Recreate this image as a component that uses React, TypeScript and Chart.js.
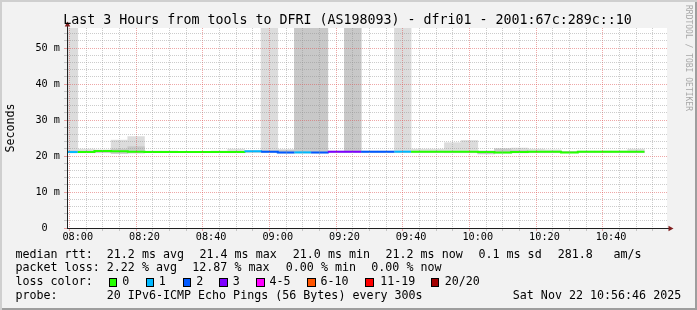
import { useEffect, useRef } from 'react';
import { Chart, registerables } from 'chart.js';

Chart.register(...registerables);

// ---------- data ----------
const rangeStart = '07:56:46';
const rangeEnd = '10:56:46';
const binMinutes = 5;

const binStarts = [
  '07:55', '08:00', '08:05', '08:10', '08:15', '08:20', '08:25', '08:30', '08:35', '08:40',
  '08:45', '08:50', '08:55', '09:00', '09:05', '09:10', '09:15', '09:20', '09:25', '09:30',
  '09:35', '09:40', '09:45', '09:50', '09:55', '10:00', '10:05', '10:10', '10:15', '10:20',
  '10:25', '10:30', '10:35', '10:40', '10:45',
];
const medianMs = [
  21.1, 21.1, 21.4, 21.3, 21.2, 21.1, 21.1, 21.1, 21.1, 21.1,
  21.1, 21.3, 21.2, 21.0, 21.0, 21.0, 21.2, 21.2, 21.2, 21.2,
  21.2, 21.2, 21.2, 21.2, 21.2, 21.1, 21.0, 21.1, 21.2, 21.2,
  21.0, 21.2, 21.2, 21.2, 21.2,
];
// index into lossColors
const lossClass = [
  1, 0, 0, 0, 0, 0, 0, 0, 0, 0,
  0, 1, 2, 2, 1, 2, 3, 3, 2, 2,
  1, 0, 0, 0, 0, 0, 0, 0, 0, 0,
  0, 0, 0, 0, 0,
];
const smokeOuterLo = [
  20.9, 20.9, 20.9, 20.8, 20.8, 21.0, 21.0, 21.0, 21.0, 21.0,
  20.9, 21.1, 20.9, 20.8, 20.8, 20.8, 21.1, 21.0, 21.0, 21.0,
  21.0, 21.0, 21.0, 20.9, 20.9, 20.6, 20.8, 20.9, 20.9, 20.9,
  20.9, 21.0, 21.0, 21.0, 20.9,
];
const smokeOuterHi = [
  60, 21.9, 21.7, 24.4, 25.4, 21.4, 21.4, 21.3, 21.3, 21.4,
  21.9, 21.5, 60, 21.8, 60, 60, 21.4, 60, 21.4, 21.4,
  60, 21.9, 21.9, 23.7, 24.3, 21.5, 22.1, 22.2, 21.9, 21.7,
  21.2, 21.4, 21.4, 21.4, 21.9,
];
const smokeInnerLo = [
  20.9, 21.0, 21.0, 20.7, 20.9, 21.0, 21.0, 21.0, 21.0, 21.0,
  21.0, 21.0, 21.0, 20.9, 20.9, 20.9, 21.0, 21.0, 21.0, 21.0,
  21.0, 21.0, 21.0, 21.0, 21.0, 20.6, 20.9, 20.9, 21.0, 21.0,
  21.0, 21.0, 21.0, 21.0, 21.0,
];
const smokeInnerHi = [
  21.5, 21.4, 21.5, 21.9, 22.6, 21.3, 21.3, 21.3, 21.3, 21.3,
  21.3, 21.3, 21.5, 21.6, 60, 60, 21.3, 60, 21.3, 21.3,
  21.3, 21.3, 21.3, 21.3, 21.3, 21.2, 21.9, 21.6, 21.3, 21.3,
  21.3, 21.3, 21.3, 21.3, 21.3,
];

const lossColors = ['#26ff00', '#00b8ff', '#0059ff', '#7e00ff', '#ff00ff', '#ff5500', '#ff0000', '#a10000'];
const lossLabels = ['0', '1', '2', '3', '4-5', '6-10', '11-19', '20/20'];

const xLabelTimes = ['08:00', '08:20', '08:40', '09:00', '09:20', '09:40', '10:00', '10:20', '10:40'];
const yLabelValues = [0, 10, 20, 30, 40, 50];
const yLabelTexts = ['0  ', '10 m', '20 m', '30 m', '40 m', '50 m'];

const titleText = 'Last 3 Hours from tools to DFRI (AS198093) - dfri01 - 2001:67c:289c::10';
const yTitle = 'Seconds';
const watermark = 'RRDTOOL / TOBI OETIKER';

const rowLabels = ['median rtt:', 'packet loss:', 'loss color:', 'probe:'];
const medianStats = ['21.2 ms avg', '21.4 ms max', '21.0 ms min', '21.2 ms now', '0.1 ms sd', '281.8', 'am/s'];
const lossStats = ['2.22 % avg', '12.87 % max', '0.00 % min', '0.00 % now'];
const probeText = '20 IPv6-ICMP Echo Pings (56 Bytes) every 300s';
const stampText = 'Sat Nov 22 10:56:46 2025';

// ---------- layout ----------
const W = 697;
const H = 310;
const MONO = '"DejaVu Sans Mono", monospace';
const medianStatX = [106.8, 199.5, 292.8, 385.5, 478.5, 557.8, 613.5];
const lossStatX = [106.8, 192.3, 285.8, 371.3];
const lossBoxX = [108.7, 145.7, 182.7, 219.3, 256, 307.3, 365.3, 430.7];
const lossLabelX = [122.2, 158.8, 196.2, 232.8, 269.5, 320.5, 380.2, 444.8];
const rowTop = [248.6, 262.4, 276.2, 290.0];

const toMin = (t: string) => {
  const p = t.split(':').map(Number);
  return p[0] * 60 + p[1] + (p[2] || 0) / 60 - 480;
};

const fmtMin = (v: number) => {
  const m = Math.round(v) + 480;
  const h = Math.floor(m / 60);
  const mm = m % 60;
  return `${String(h).padStart(2, '0')}:${String(mm).padStart(2, '0')}`;
};

const MINOR = 'rgba(143,143,143,0.45)';
const MAJOR = 'rgba(222,79,79,0.5)';

const plotBg = {
  id: 'plotBg',
  beforeDraw(chart: any) {
    const { ctx, chartArea: a } = chart;
    ctx.save();
    ctx.fillStyle = '#ffffff';
    ctx.fillRect(a.left, a.top, a.right - a.left, a.bottom - a.top);
    ctx.restore();
  },
};

const axisArrows = {
  id: 'axisArrows',
  afterDraw(chart: any) {
    const { ctx, chartArea: a } = chart;
    const ax = Math.round(a.left) + 0.5;
    const ay = Math.round(a.bottom) + 0.5;
    ctx.save();
    ctx.strokeStyle = '#1f1f1f';
    ctx.lineWidth = 1;
    ctx.beginPath();
    ctx.moveTo(ax, a.top + 1);
    ctx.lineTo(ax, a.top - 3);
    ctx.moveTo(a.right - 1, ay);
    ctx.lineTo(a.right + 3, ay);
    ctx.stroke();
    ctx.fillStyle = '#801f1f';
    ctx.beginPath();
    ctx.moveTo(ax, a.top - 6.5);
    ctx.lineTo(ax + 2.8, a.top - 1.5);
    ctx.lineTo(ax - 2.8, a.top - 1.5);
    ctx.closePath();
    ctx.fill();
    ctx.beginPath();
    ctx.moveTo(a.right + 6.5, ay);
    ctx.lineTo(a.right + 1.5, ay - 2.8);
    ctx.lineTo(a.right + 1.5, ay + 2.8);
    ctx.closePath();
    ctx.fill();
    ctx.restore();
  },
};

export default function App() {
  const ref = useRef<HTMLCanvasElement>(null);

  useEffect(() => {
    const canvas = ref.current;
    if (!canvas) return;
    const xs = binStarts.map(toMin);
    const bars = (lo: (number | null)[], hi: (number | null)[]) =>
      xs
        .map((x, i) => (lo[i] == null || hi[i] == null ? null : { x: x + binMinutes / 2, y: [lo[i], hi[i]] }))
        .filter((d) => d !== null);
    const linePts = xs.map((x, i) => ({ x, y: medianMs[i] }));
    linePts.push({ x: xs[xs.length - 1] + binMinutes, y: medianMs[medianMs.length - 1] });

    const xMin = toMin(rangeStart);
    const xMax = toMin(rangeEnd);
    const xTickVals: number[] = [];
    for (let v = Math.ceil(xMin / binMinutes) * binMinutes; v <= xMax; v += binMinutes) xTickVals.push(v);
    const xLabelVals = xLabelTimes.map(toMin);
    const yTickVals: number[] = [];
    for (let v = 0; v <= 54; v += 2) yTickVals.push(v);

    const chart = new Chart(canvas, {
      type: 'bar',
      data: {
        datasets: [
          {
            type: 'line',
            data: linePts,
            order: 0,
            borderColor: lossColors[0],
            borderWidth: 2,
            pointRadius: 0,
            stepped: 'before',
            fill: false,
            clip: 0,
            segment: {
              borderColor: (c: any) => lossColors[lossClass[c.p0DataIndex]] || lossColors[0],
            },
          } as any,
          {
            type: 'bar',
            data: bars(smokeInnerLo, smokeInnerHi),
            order: 1,
            backgroundColor: '#c8c8c8',
            borderWidth: 0,
            grouped: false,
            barPercentage: 1,
            categoryPercentage: 1,
            clip: 0,
          } as any,
          {
            type: 'bar',
            data: bars(smokeOuterLo, smokeOuterHi),
            order: 2,
            backgroundColor: '#dcdcdc',
            borderWidth: 0,
            grouped: false,
            barPercentage: 1,
            categoryPercentage: 1,
            clip: 0,
          } as any,
        ],
      },
      options: {
        responsive: false,
        animation: false,
        devicePixelRatio: 1,
        events: [],
        layout: { padding: { left: 0, top: 28, right: 30, bottom: 62 } },
        plugins: {
          legend: { display: false },
          tooltip: { enabled: false },
          title: { display: false },
        },
        scales: {
          x: {
            type: 'linear',
            offset: false,
            min: xMin,
            max: xMax,
            afterFit: (s: any) => {
              s.height = 20;
            },
            afterBuildTicks: (s: any) => {
              s.ticks = xTickVals.map((v) => ({ value: v }));
            },
            grid: {
              z: 1,
              lineWidth: 1,
              drawTicks: true,
              tickLength: 3,
              color: (c: any) => (c.tick && Math.round(c.tick.value) % 20 === 0 ? MAJOR : MINOR),
            },
            border: { display: true, color: '#1f1f1f', width: 1, dash: [1, 1], z: 2 },
            ticks: {
              autoSkip: false,
              maxRotation: 0,
              minRotation: 0,
              padding: 0,
              color: '#000',
              font: { family: MONO, size: 10.2 },
              callback: (v: any) => (xLabelVals.some((l) => Math.abs(l - v) < 0.01) ? fmtMin(v) : ''),
            },
          },
          y: {
            type: 'linear',
            min: 0,
            max: 200 / 3.6,
            afterFit: (s: any) => {
              s.width = 67;
            },
            afterBuildTicks: (s: any) => {
              s.ticks = yTickVals.map((v) => ({ value: v }));
            },
            grid: {
              z: 1,
              lineWidth: 1,
              drawTicks: true,
              tickLength: 3,
              color: (c: any) => (c.tick && Math.round(c.tick.value) % 10 === 0 ? MAJOR : MINOR),
            },
            border: { display: true, color: '#1f1f1f', width: 1, dash: [1, 1], z: 2 },
            title: {
              display: true,
              text: yTitle,
              color: '#000',
              font: { family: MONO, size: 11.67 },
              padding: { top: 3.5, bottom: 0 },
            },
            ticks: {
              autoSkip: false,
              padding: 4,
              color: '#000',
              font: { family: MONO, size: 10.2 },
              callback: (v: any) => {
                const i = yLabelValues.indexOf(Math.round(v));
                return i >= 0 && Math.abs(v - yLabelValues[i]) < 0.01 ? yLabelTexts[i] : '';
              },
            },
          },
        },
      } as any,
      plugins: [plotBg, axisArrows],
    });
    return () => chart.destroy();
  }, []);

  const txt = (left: number, top: number, text: string, key: string, size = 11.67) => (
    <span
      key={key}
      style={{
        position: 'absolute',
        left,
        top,
        fontSize: size,
        lineHeight: 1,
        whiteSpace: 'pre',
        color: '#000',
      }}
    >
      {text}
    </span>
  );

  return (
    <div
      style={{
        position: 'fixed',
        left: 0,
        top: 0,
        width: W,
        height: H,
        background: '#f2f2f2',
        boxShadow: 'inset 2px 2px 0 #cfcfcf, inset -2px -2px 0 #9e9e9e',
        overflow: 'hidden',
        fontFamily: MONO,
      }}
    >
      <canvas ref={ref} width={W} height={H} style={{ position: 'absolute', left: 0, top: 0, width: W, height: H }} />
      <div
        style={{
          position: 'absolute',
          left: -1,
          top: 13.25,
          width: W,
          textAlign: 'center',
          fontSize: 13.3,
          lineHeight: 1,
          whiteSpace: 'pre',
          color: '#000',
        }}
      >
        {titleText}
      </div>
      <div
        style={{
          position: 'absolute',
          left: 683.5,
          top: 5,
          writingMode: 'vertical-rl',
          fontSize: 8,
          lineHeight: 1,
          whiteSpace: 'pre',
          color: '#a8a8a8',
        }}
      >
        {watermark}
      </div>
      {rowLabels.map((t, i) => txt(15.5, rowTop[i], t, 'r' + i))}
      {medianStats.map((t, i) => txt(medianStatX[i], rowTop[0], t, 'm' + i))}
      {lossStats.map((t, i) => txt(lossStatX[i], rowTop[1], t, 'l' + i))}
      {lossLabels.map((t, i) => (
        <div
          key={'b' + i}
          style={{
            position: 'absolute',
            left: lossBoxX[i],
            top: 278,
            width: 8.5,
            height: 9,
            boxSizing: 'border-box',
            border: '1px solid #000',
            background: lossColors[i],
          }}
        />
      ))}
      {lossLabels.map((t, i) => txt(lossLabelX[i], rowTop[2], t, 'c' + i))}
      {txt(106.8, rowTop[3], probeText, 'p')}
      {txt(512.8, rowTop[3], stampText, 's')}
    </div>
  );
}
